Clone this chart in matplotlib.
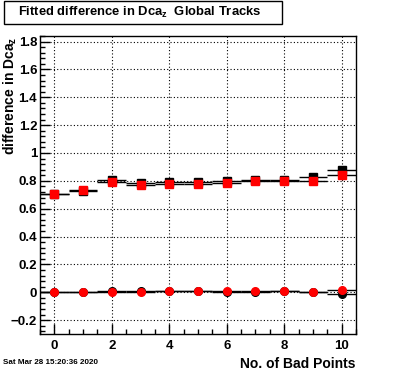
import numpy as np
import matplotlib
matplotlib.use('Agg')
import matplotlib.pyplot as plt
from matplotlib.patches import Rectangle
from matplotlib.ticker import MultipleLocator

plt.rcParams['font.family'] = ['Liberation Sans', 'DejaVu Sans']
plt.rcParams['font.weight'] = 'bold'
plt.rcParams['mathtext.fontset'] = 'custom'
plt.rcParams['mathtext.rm'] = 'Liberation Sans:bold'
plt.rcParams['mathtext.it'] = 'Liberation Sans:bold'
plt.rcParams['mathtext.bf'] = 'Liberation Sans:bold'

# Данные: число плохих точек и подогнанные значения
bad_points = [0, 1, 2, 3, 4, 5, 6, 7, 8, 9, 10]
sigma_black = [0.705, 0.730, 0.805, 0.786, 0.788, 0.788, 0.802, 0.809, 0.808, 0.830, 0.878]
sigma_red = [0.708, 0.733, 0.790, 0.769, 0.776, 0.776, 0.783, 0.802, 0.800, 0.802, 0.840]
mean_black = [0.000, 0.000, 0.006, 0.006, 0.012, 0.012, 0.005, 0.005, 0.010, 0.000, -0.010]
mean_red = [0.000, 0.000, 0.005, 0.005, 0.012, 0.010, 0.008, 0.008, 0.010, 0.000, 0.019]
x_half_width = 0.5

fig = plt.figure(figsize=(3.96, 3.72), dpi=100)
ax = fig.add_axes([40/396, 1 - 334/372, 316/396, 298/372])

ax.grid(True, which='major', color='black', linestyle=(0, (1, 2)), linewidth=0.8)
ax.set_axisbelow(True)

ax.errorbar(bad_points, sigma_black, xerr=x_half_width, fmt='s', ms=5.2,
            mfc='black', mec='black', ecolor='black', elinewidth=1, capsize=0)
ax.errorbar(bad_points, mean_black, xerr=x_half_width, fmt='o', ms=5.5,
            mfc='black', mec='black', ecolor='black', elinewidth=1, capsize=0)
ax.errorbar(bad_points, sigma_red, xerr=x_half_width, fmt='s', ms=5.2,
            mfc='red', mec='red', ecolor='black', elinewidth=1, capsize=0)
ax.errorbar(bad_points, mean_red, xerr=x_half_width, fmt='o', ms=5.5,
            mfc='red', mec='red', ecolor='black', elinewidth=1, capsize=0)

ax.set_xlim(-0.5, 10.5)
ax.set_ylim(-0.3, 1.84)
ax.xaxis.set_major_locator(MultipleLocator(2))
ax.xaxis.set_minor_locator(MultipleLocator(0.5))
ax.yaxis.set_minor_locator(MultipleLocator(0.04))
ax.set_yticks(np.arange(-0.2, 1.81, 0.2))
ax.set_yticklabels(['\u22120.2', '0', '0.2', '0.4', '0.6', '0.8', '1', '1.2', '1.4', '1.6', '1.8'])

ax.tick_params(which='both', direction='in', top=False, right=False, labelsize=9.5)
ax.tick_params(axis='y', pad=2)
ax.tick_params(axis='x', pad=4)
ax.tick_params(which='major', length=7, width=1)
ax.tick_params(which='minor', length=3.5, width=1)
for s in ax.spines.values():
    s.set_linewidth(1)
for lab in ax.get_xticklabels() + ax.get_yticklabels():
    lab.set_fontweight('bold')

# Заголовок в рамке
fig.patches.append(Rectangle((4/396, 1 - 24/372), 278/396, 23/372, transform=fig.transFigure,
                             fill=False, edgecolor='black', linewidth=1))
fig.text(18/396, 1 - 12.5/372, r'Fitted difference in Dca$_{z}$  Global Tracks',
         fontsize=9.4, fontweight='bold', ha='left', va='center')

fig.text(355/396, 1 - 364/372, 'No. of Bad Points', fontsize=10, fontweight='bold',
         ha='right', va='center')
fig.text(10/396, 1 - 37/372, r'difference in Dca$_{z}$', fontsize=10, fontweight='bold',
         rotation=90, ha='center', va='top')
fig.text(3/396, 1 - 362/372, 'Sat Mar 28 15:20:36 2020', fontsize=5.8, fontweight='bold',
         ha='left', va='center')

fig.savefig('out.png', dpi=100)
